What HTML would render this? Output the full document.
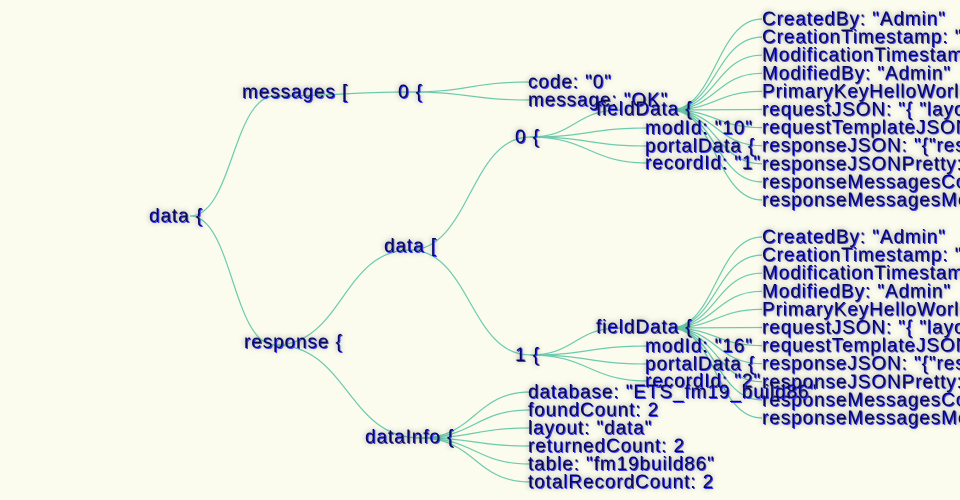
<!DOCTYPE html>
<html><head><meta charset="utf-8"><style>
html,body{margin:0;padding:0;background:#fbfcee;}
svg{display:block}
text{font-family:"Liberation Sans",sans-serif;font-size:19px;letter-spacing:0.9px;fill:#08085a;
text-shadow:1px 1px 0 #3a3aff,0 0 6px rgba(0,0,0,0.45);}
path{fill:none;stroke:#6ccbae;stroke-width:1.2}
</style></head><body>
<svg width="960" height="500" viewBox="0 0 960 500" id="s">
<rect width="960" height="500" fill="#fbfcee"/>
<g id="L"></g><g id="T"></g>
</svg>
<script>
var L=document.getElementById('L'),T=document.getElementById('T'),NS='http://www.w3.org/2000/svg';
function link(a,b){var p=document.createElementNS(NS,'path');var m=(a[0]+b[0])/2;
p.setAttribute('d','M'+a[0]+','+a[1]+'C'+m+','+a[1]+' '+m+','+b[1]+' '+b[0]+','+b[1]);L.appendChild(p);}
function txt(x,y,s){var t=document.createElementNS(NS,'text');t.setAttribute('x',x);t.setAttribute('y',y+6);t.textContent=s;T.appendChild(t);}
var data=[190,216],msgs=[275,96],m0=[410,92],resp=[275,345],d2=[410,250],d0=[530,137],d1=[530,355],di=[420,438];
link(data,msgs);link(data,resp);link(msgs,m0);link(m0,[530,82]);link(m0,[530,100]);
link(resp,d2);link(resp,di);link(d2,d0);link(d2,d1);
txt(149,216,'data {');txt(242,92,'messages [');txt(398,92,'0 {');txt(528,82,'code: "0"');txt(528,100,'message: "OK"');
txt(244,342,'response {');txt(384,246,'data [');txt(365,437,'dataInfo {');
var kids=['CreatedBy: "Admin"','CreationTimestamp: "','ModificationTimestamp','ModifiedBy: "Admin"','PrimaryKeyHelloWorld','requestJSON: "{ "layout','requestTemplateJSON','responseJSON: "{"resp','responseJSONPretty: "','responseMessagesCode','responseMessagesMessage'];
function rec(p,y0,id,r){
 txt(515,y0,'0 {'.replace('0',id));
 var fd=[620,y0-27];link(p,fd);
 [[y0-9,'modId: "'+(id=='0'?'10':'16')+'"'],[y0+9,'portalData {'],[y0+26,'recordId: "'+r+'"']].forEach(function(c){link(p,[648,c[0]]);txt(645,c[0],c[1]);});
 var ys=y0-118;
 kids.forEach(function(k,i){var y=ys+i*18.1;link([670,y0-27],[762,y]);txt(762,y,k);});
 txt(596,y0-28,'fieldData {');
}
rec(d0,137,'0','1');rec(d1,355,'1','2');
['database: "ETS_fm19_build86"','foundCount: 2','layout: "data"','returnedCount: 2','table: "fm19build86"','totalRecordCount: 2'].forEach(function(s,i){var y=392+i*18;link(di,[530,y]);txt(528,y,s);});
</script>
</body></html>
